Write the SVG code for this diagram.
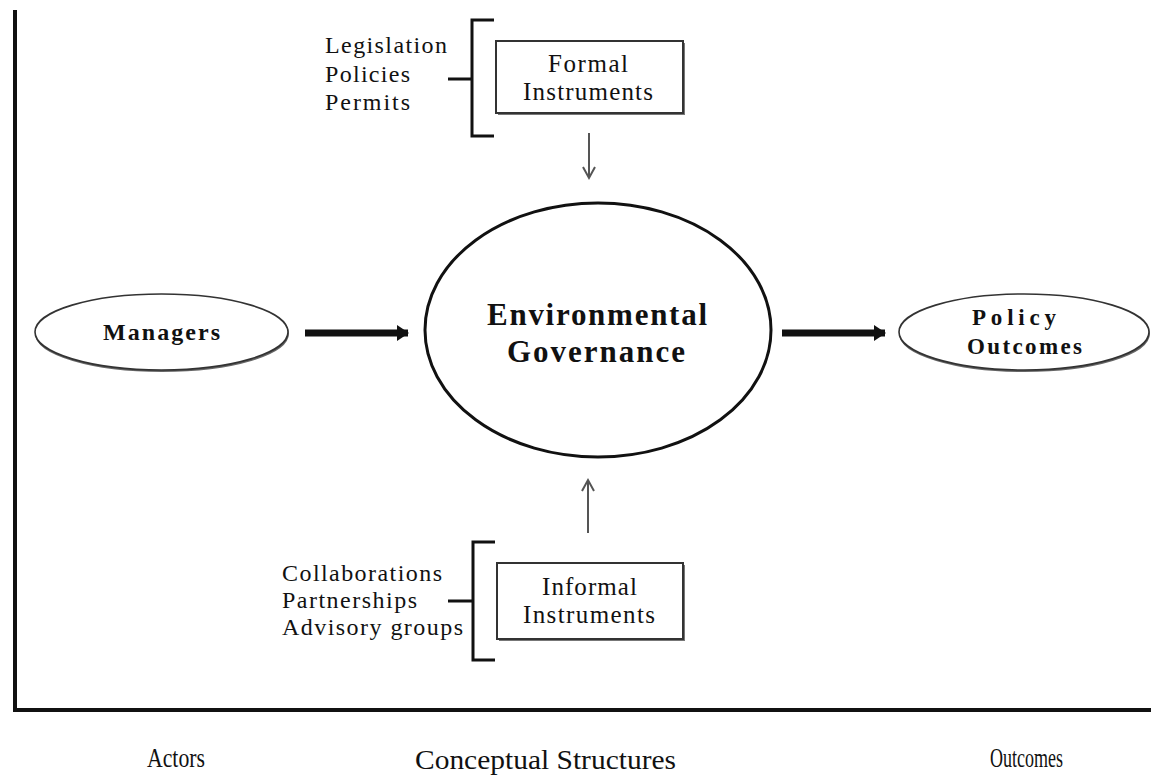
<svg xmlns="http://www.w3.org/2000/svg" width="1151" height="782" viewBox="0 0 1151 782">
  <style>
    .serif { font-family: "Liberation Serif", "Times New Roman", serif; fill: #111; }
    .bold { font-weight: bold; }
    .axis { stroke: #111; stroke-width: 4; fill: none; }
    .bracket { stroke: #111; stroke-width: 3; fill: none; }
    .box { fill: #fff; stroke: #333; stroke-width: 2; }
    .box-shade { fill: none; stroke: #777; stroke-width: 2; }
    .oval { fill: #fff; stroke: #333; stroke-width: 1.6; }
    .oval-shade { fill: none; stroke: #666; stroke-width: 2; }
    .core { fill: #fff; stroke: #111; stroke-width: 3; }
    .thick { stroke: #111; stroke-width: 7; fill: none; }
    .thin { stroke: #555; stroke-width: 2; fill: none; }
  </style>
  <defs>
    <marker id="headBold" markerUnits="userSpaceOnUse" markerWidth="12" markerHeight="16" refX="11" refY="8" orient="auto">
      <path d="M0,0 L12,8 L0,16 Z" fill="#111"/>
    </marker>
    <marker id="headOpen" markerUnits="userSpaceOnUse" markerWidth="16" markerHeight="14" refX="13" refY="7" orient="auto">
      <path d="M2,1 L13,7 L2,13" fill="none" stroke="#555" stroke-width="2"/>
    </marker>
  </defs>

  <rect width="1151" height="782" fill="#fff"/>

  <!-- axes -->
  <g id="axes">
    <line class="axis" x1="15" y1="10" x2="15" y2="710"/>
    <line class="axis" x1="13" y1="710" x2="1151" y2="710"/>
  </g>

  <!-- formal instruments with its list -->
  <g id="formal-list">
    <text class="serif" x="325" y="53" font-size="24" textLength="122" lengthAdjust="spacing">Legislation</text>
    <text class="serif" x="325" y="82" font-size="24" textLength="85" lengthAdjust="spacing">Policies</text>
    <text class="serif" x="325" y="110" font-size="24" textLength="85" lengthAdjust="spacing">Permits</text>
    <path class="bracket" d="M494,20 H472 V136 H494 M448,79 H472"/>
  </g>
  <g id="formal">
    <path class="box-shade" d="M684,43 V114 H498"/>
    <rect class="box" x="496" y="41" width="187" height="72"/>
    <text class="serif" x="548" y="72" font-size="25" textLength="80" lengthAdjust="spacing">Formal</text>
    <text class="serif" x="523" y="100" font-size="25" textLength="130" lengthAdjust="spacing">Instruments</text>
  </g>

  <!-- informal instruments with its list -->
  <g id="informal-list">
    <text class="serif" x="282" y="581" font-size="24" textLength="160" lengthAdjust="spacing">Collaborations</text>
    <text class="serif" x="282" y="608" font-size="24" textLength="135" lengthAdjust="spacing">Partnerships</text>
    <text class="serif" x="282" y="635" font-size="24" textLength="181" lengthAdjust="spacing">Advisory groups</text>
    <path class="bracket" d="M495,542 H473 V660 H495 M448,601 H473"/>
  </g>
  <g id="informal">
    <path class="box-shade" d="M684,565 V640 H499"/>
    <rect class="box" x="497" y="563" width="186" height="76"/>
    <text class="serif" x="542" y="595" font-size="25" textLength="95" lengthAdjust="spacing">Informal</text>
    <text class="serif" x="523" y="623" font-size="25" textLength="132" lengthAdjust="spacing">Instruments</text>
  </g>

  <!-- central concept -->
  <g id="governance">
    <ellipse class="core" cx="598" cy="330" rx="173" ry="127"/>
    <text class="serif bold" x="487" y="325" font-size="31" textLength="220" lengthAdjust="spacing">Environmental</text>
    <text class="serif bold" x="507" y="362" font-size="31" textLength="178" lengthAdjust="spacing">Governance</text>
  </g>

  <!-- actors -->
  <g id="managers">
    <ellipse class="oval-shade" cx="162" cy="333.5" rx="126" ry="37.5"/>
    <ellipse class="oval" cx="161.5" cy="332" rx="126.5" ry="38"/>
    <text class="serif bold" x="103" y="340" font-size="24" textLength="117" lengthAdjust="spacing">Managers</text>
  </g>

  <!-- outcomes -->
  <g id="policy-outcomes">
    <ellipse class="oval-shade" cx="1024.5" cy="333.5" rx="124.5" ry="37.5"/>
    <ellipse class="oval" cx="1024" cy="332" rx="125" ry="38"/>
    <text class="serif bold" x="972" y="325" font-size="23" textLength="84" lengthAdjust="spacing">Policy</text>
    <text class="serif bold" x="967" y="354" font-size="23" textLength="115" lengthAdjust="spacing">Outcomes</text>
  </g>

  <!-- connectors -->
  <g id="connectors">
    <line class="thick" x1="305" y1="333" x2="408" y2="333" marker-end="url(#headBold)"/>
    <line class="thick" x1="782" y1="333" x2="885" y2="333" marker-end="url(#headBold)"/>
    <line class="thin" x1="589" y1="133" x2="589" y2="178" marker-end="url(#headOpen)"/>
    <line class="thin" x1="588" y1="533" x2="588" y2="480" marker-end="url(#headOpen)"/>
  </g>

  <!-- column captions -->
  <g id="captions">
    <text class="serif" x="147" y="767" font-size="27" textLength="58" lengthAdjust="spacingAndGlyphs">Actors</text>
    <text class="serif" x="415" y="769" font-size="27" textLength="261" lengthAdjust="spacingAndGlyphs">Conceptual  Structures</text>
    <text class="serif" x="990" y="767" font-size="27" textLength="73" lengthAdjust="spacingAndGlyphs">Outcomes</text>
  </g>
</svg>
